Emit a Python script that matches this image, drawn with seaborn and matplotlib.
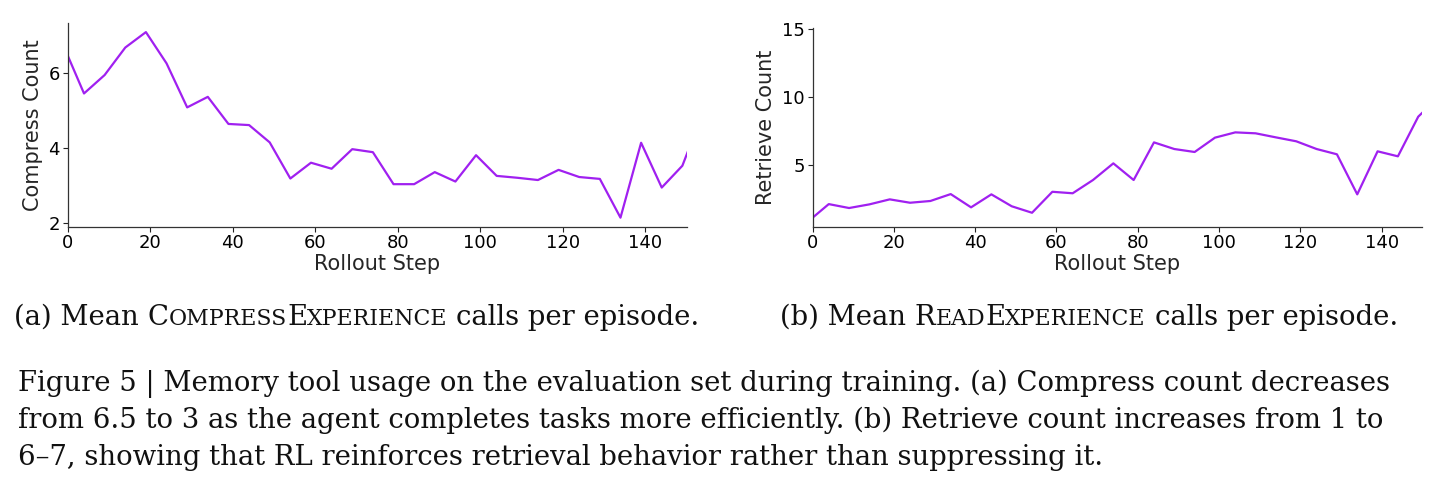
import matplotlib
matplotlib.use("Agg")
import matplotlib.pyplot as plt
import seaborn as sns
import pandas as pd

# ---- data ----
steps = [0, 4, 9, 14, 19, 24, 29, 34, 39, 44, 49, 54, 59, 64, 69, 74, 79, 84, 89, 94,
         99, 104, 109, 114, 119, 124, 129, 134, 139, 144, 149, 154]
compress_count = [6.47, 5.45, 5.94, 6.67, 7.08, 6.25, 5.08, 5.36, 4.64, 4.61, 4.15, 3.19,
                  3.61, 3.45, 3.97, 3.89, 3.04, 3.04, 3.36, 3.11, 3.81, 3.26, 3.21, 3.15,
                  3.42, 3.23, 3.18, 2.15, 4.14, 2.95, 3.53, 4.95]
retrieve_count = [1.08, 2.09, 1.80, 2.07, 2.44, 2.19, 2.32, 2.83, 1.85, 2.81, 1.93, 1.45,
                  3.00, 2.89, 3.87, 5.10, 3.87, 6.65, 6.16, 5.94, 7.00, 7.39, 7.32, 7.02,
                  6.73, 6.16, 5.77, 2.81, 5.99, 5.62, 8.55, 10.0]
xticks = [0, 20, 40, 60, 80, 100, 120, 140]
left_yticks = [2, 4, 6]
right_yticks = [5, 10, 15]

caption_a = ["(a) Mean ", ("C", "OMPRESS"), ("E", "XPERIENCE"), " calls per episode."]
caption_b = ["(b) Mean ", ("R", "EAD"), ("E", "XPERIENCE"), " calls per episode."]
fig_caption = [
    "Figure 5 | Memory tool usage on the evaluation set during training. (a) Compress count decreases",
    "from 6.5 to 3 as the agent completes tasks more efficiently. (b) Retrieve count increases from 1 to",
    "6\u20137, showing that RL reinforces retrieval behavior rather than suppressing it.",
]

sns.set_style("white")
plt.rcParams["font.family"] = ["DejaVu Sans"]

df = pd.DataFrame({"Rollout Step": steps, "Compress Count": compress_count,
                   "Retrieve Count": retrieve_count})

W, H = 1446, 499
fig = plt.figure(figsize=(W / 100, H / 100), dpi=100)
color = "#a020f0"

def px_axes(x0, x1, ytop, ybot):
    return fig.add_axes([x0 / W, 1 - ybot / H, (x1 - x0) / W, (ybot - ytop) / H])

ax1 = px_axes(67.5, 686.5, 22.7, 226.7)
ax2 = px_axes(812.5, 1422.3, 28.3, 226.7)

for ax, col, yt in [(ax1, "Compress Count", left_yticks), (ax2, "Retrieve Count", right_yticks)]:
    sns.lineplot(data=df, x="Rollout Step", y=col, ax=ax, color=color, linewidth=1.6)
    ax.set_xlim(0, 150)
    ax.set_xticks(xticks)
    ax.set_yticks(yt)
    ax.tick_params(axis="both", labelsize=13, length=3.5, width=0.8, pad=2,
                   direction="out", left=True, bottom=True, colors="#222222",
                   labelcolor="black")
    ax.set_xlabel("Rollout Step", fontsize=15, labelpad=1)
    ax.set_ylabel(col, fontsize=15, labelpad=4)
    sns.despine(ax=ax)
    for s in ["left", "bottom"]:
        ax.spines[s].set_color("#333333")
        ax.spines[s].set_linewidth(0.9)

ax1.set_ylim(1.91, 7.33)
ax2.set_ylim(0.42, 15.08)

# ---- captions (serif, small caps emulated) ----
serif = ["DejaVu Serif"]
cap_size = 19.8
sc_size = cap_size * 0.8
fig.canvas.draw()
renderer = fig.canvas.get_renderer()

def text_width(s, size):
    t = fig.text(0, 0, s, fontsize=size, family=serif)
    w = t.get_window_extent(renderer).width
    t.remove()
    return w

space_w = text_width("a a", cap_size) - text_width("aa", cap_size)

def pieces_of(parts):
    out = []
    for p in parts:
        if isinstance(p, tuple):
            out.append((p[0], cap_size))
            out.append((p[1], sc_size))
        else:
            lead = len(p) - len(p.lstrip(" "))
            trail = len(p) - len(p.rstrip(" "))
            out.append((None, lead))
            out.append((p.strip(" "), cap_size))
            out.append((None, trail))
    return out

def draw_smallcaps(parts, cx, baseline_y):
    pcs = pieces_of(parts)
    widths = []
    for s, size in pcs:
        if s is None:
            widths.append(size * space_w)
        else:
            widths.append(text_width(s, size))
    total = sum(widths)
    x = cx - total / 2
    for (s, size), w in zip(pcs, widths):
        if s is not None:
            fig.text(x / W, 1 - baseline_y / H, s, fontsize=size, family=serif,
                     va="baseline", ha="left", color="#111111")
        x += w

draw_smallcaps(caption_a, 357, 325)
draw_smallcaps(caption_b, 1089, 325)

for i, line in enumerate(fig_caption):
    fig.text(18 / W, 1 - (391.5 + i * 36.8) / H, line, fontsize=cap_size,
             family=serif, va="baseline", ha="left", color="#111111")

fig.savefig("out.png", dpi=100)
